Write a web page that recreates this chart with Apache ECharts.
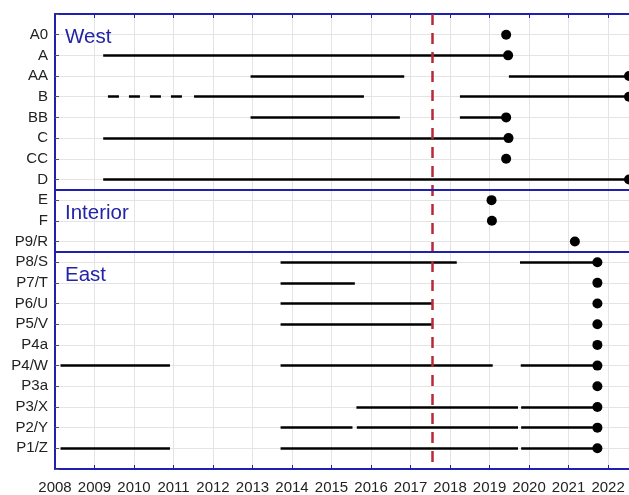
<!DOCTYPE html>
<html>
<head>
<meta charset="utf-8">
<script src="https://cdn.jsdelivr.net/npm/echarts@6/dist/echarts.min.js"></script>
<style>
html,body{margin:0;padding:0;background:#fff;}
#chart{width:629px;height:495px;}
</style>
</head>
<body>
<div id="chart"></div>
<script>
const categories = ['A0','A','AA','B','BB','C','CC','D','E','F','P9/R','P8/S','P7/T','P6/U','P5/V','P4a','P4/W','P3a','P3/X','P2/Y','P1/Z'];
const yearTicks = [2008,2009,2010,2011,2012,2013,2014,2015,2016,2017,2018,2019,2020,2021,2022];
const regionNames = ['West','Interior','East'];
const regionDividers = [8.5, 11.5];
const referenceYear = 2017.54;

const solidSegments = [
  ['A', 2009.22, 2019.47],
  ['AA', 2012.95, 2016.84],
  ['AA', 2019.49, 2022.53],
  ['B', 2011.52, 2015.82],
  ['B', 2018.25, 2022.53],
  ['BB', 2012.95, 2016.73],
  ['BB', 2018.25, 2019.42],
  ['C', 2009.22, 2019.48],
  ['D', 2009.22, 2022.53],
  ['P8/S', 2013.71, 2018.17],
  ['P8/S', 2019.77, 2021.73],
  ['P7/T', 2013.71, 2015.59],
  ['P6/U', 2013.71, 2017.54],
  ['P5/V', 2013.71, 2017.54],
  ['P4/W', 2008.14, 2010.91],
  ['P4/W', 2013.71, 2019.08],
  ['P4/W', 2019.79, 2021.73],
  ['P3/X', 2015.63, 2019.72],
  ['P3/X', 2019.80, 2021.73],
  ['P2/Y', 2013.71, 2015.53],
  ['P2/Y', 2015.64, 2019.72],
  ['P2/Y', 2019.80, 2021.73],
  ['P1/Z', 2008.14, 2010.91],
  ['P1/Z', 2013.71, 2019.72],
  ['P1/Z', 2019.80, 2021.73]
];
const dashedSegments = [
  ['B', 2009.34, 2011.24]
];
const endDots = [
  ['A0', 2019.42], ['A', 2019.47], ['AA', 2022.53], ['B', 2022.53], ['BB', 2019.42],
  ['C', 2019.48], ['CC', 2019.42], ['D', 2022.53],
  ['E', 2019.05], ['F', 2019.06], ['P9/R', 2021.16],
  ['P8/S', 2021.73], ['P7/T', 2021.73], ['P6/U', 2021.73], ['P5/V', 2021.73],
  ['P4a', 2021.73], ['P4/W', 2021.73], ['P3a', 2021.73], ['P3/X', 2021.73],
  ['P2/Y', 2021.73], ['P1/Z', 2021.73]
];

const rowOf = c => categories.indexOf(c) + 1;
const toLines = segs => segs.map(s => ({coords: [[s[1], rowOf(s[0])], [s[2], rowOf(s[0])]]}));

const FONT = 'Liberation Sans, Arial, Helvetica, sans-serif';
const BLUE = '#1f1fb0';
const TEXTBLUE = '#2323a8';
const chart = echarts.init(document.getElementById('chart'), null, {renderer: 'canvas'});

chart.setOption({
  animation: false,
  backgroundColor: '#fff',
  grid: {left: 55, top: 14, right: 0, bottom: 25, show: false},
  xAxis: [{
    type: 'value', min: 2008, max: 2022.53, interval: 1, position: 'bottom',
    axisLine: {show: true, onZero: false, lineStyle: {color: BLUE, width: 2}},
    axisTick: {show: true, inside: true, length: 4, lineStyle: {color: BLUE}},
    splitLine: {show: true, lineStyle: {color: '#e4e4e4', width: 1}},
    axisLabel: {
      show: true, margin: 11, color: '#222', fontSize: 15, fontFamily: FONT,
      showMaxLabel: false,
      formatter: v => yearTicks.indexOf(Math.round(v)) >= 0 && Math.abs(v - Math.round(v)) < 1e-6 ? String(Math.round(v)) : ''
    }
  }, {
    type: 'value', min: 2008, max: 2022.53, interval: 1, position: 'top',
    axisLine: {show: true, onZero: false, lineStyle: {color: BLUE, width: 2}},
    axisTick: {show: true, inside: true, length: 4, lineStyle: {color: BLUE}},
    splitLine: {show: false},
    axisLabel: {show: false}
  }],
  yAxis: {
    type: 'value', min: 0, max: 22, interval: 1, inverse: true,
    axisLine: {show: true, onZero: false, lineStyle: {color: BLUE, width: 2}},
    axisTick: {show: true, inside: true, length: 4, lineStyle: {color: '#555'}},
    splitLine: {show: true, lineStyle: {color: '#e4e4e4', width: 1}},
    axisLabel: {
      margin: 7, color: '#222', fontSize: 15, fontFamily: FONT,
      formatter: v => (v >= 1 && v <= categories.length) ? categories[v - 1] : ''
    }
  },
  graphic: [
    {type: 'text', x: 65, y: 37, z: 100, style: {text: regionNames[0], fill: TEXTBLUE, font: '20.5px ' + FONT, verticalAlign: 'middle'}},
    {type: 'text', x: 65, y: 213, z: 100, style: {text: regionNames[1], fill: TEXTBLUE, font: '20.5px ' + FONT, verticalAlign: 'middle'}},
    {type: 'text', x: 65, y: 275, z: 100, style: {text: regionNames[2], fill: TEXTBLUE, font: '20.5px ' + FONT, verticalAlign: 'middle'}}
  ],
  series: [
    {
      type: 'lines', coordinateSystem: 'cartesian2d', polyline: false, z: 3,
      lineStyle: {color: '#000', width: 2.6, opacity: 1},
      data: toLines(solidSegments)
    },
    {
      type: 'lines', coordinateSystem: 'cartesian2d', polyline: false, z: 3,
      lineStyle: {color: '#000', width: 2.6, opacity: 1, type: [11, 10]},
      data: toLines(dashedSegments)
    },
    {
      type: 'scatter', z: 4, symbol: 'circle', symbolSize: 10, clip: false,
      itemStyle: {color: '#000', opacity: 1},
      data: endDots.map(d => [d[1], rowOf(d[0])]),
      markLine: {
        silent: true, symbol: 'none', label: {show: false}, z: 5,
        data: [
          {xAxis: referenceYear, lineStyle: {color: '#b8283a', width: 2.5, type: [11, 8]}},
          {yAxis: regionDividers[0], lineStyle: {color: BLUE, width: 2, type: 'solid'}},
          {yAxis: regionDividers[1], lineStyle: {color: BLUE, width: 2, type: 'solid'}}
        ]
      }
    }
  ]
});
</script>
</body>
</html>
